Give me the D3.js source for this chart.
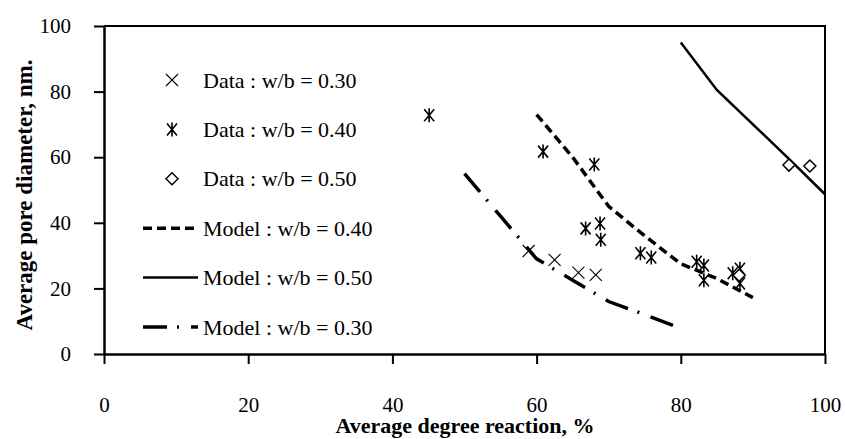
<!DOCTYPE html>
<html lang="en">
<head>
    <meta charset="UTF-8">
    <script src="https://d3js.org/d3.v7.min.js"></script>
    <style>
        body { margin: 0; background: #fff; }
        svg { font-family: "Liberation Serif", "Times New Roman", serif; }
        .tick text { font-size: 21px; fill: #000; }
    </style>
</head>
<body>
    <svg width="845" height="439"></svg>
    <script>
        // data
        var xTicks = [0, 20, 40, 60, 80, 100];
        var yTicks = [0, 20, 40, 60, 80, 100];

        var data30x = [58.9, 62.5, 65.8, 68.2];
        var data30y = [31.4, 28.7, 24.8, 24.1];

        var data40x = [45.1, 60.9, 68.0, 66.8, 68.8, 68.9, 74.4, 75.9, 82.2, 83.2, 83.2, 87.2, 88.2, 88.2];
        var data40y = [72.8, 61.7, 57.8, 38.3, 39.8, 34.8, 30.7, 29.4, 28.1, 27.0, 22.5, 24.6, 26.0, 21.5];

        var data50x = [95.0, 97.9, 88.1];
        var data50y = [57.6, 57.3, 24.0];

        var model40x = [60, 65, 70, 75, 80, 85, 90];
        var model40y = [73, 60, 45, 36, 27.5, 23, 17.2];

        var model50x = [80, 85, 90, 95, 100];
        var model50y = [95, 80.5, 70, 59.5, 48.7];

        var model30x = [50, 55, 60, 65, 70, 75, 80];
        var model30y = [55, 42, 29, 22.5, 16, 12, 7.8];

        var legendLabels = ["Data : w/b = 0.30", "Data : w/b = 0.40", "Data : w/b = 0.50",
                            "Model : w/b = 0.40", "Model : w/b = 0.50", "Model : w/b = 0.30"];

        var svg = d3.select("svg");
        var pLeft = 104, pTop = 26, pRight = 825, pBottom = 354;

        var x = d3.scaleLinear().domain([0, 100]).range([pLeft, pRight]);
        var y = d3.scaleLinear().domain([0, 100]).range([pBottom, pTop]);

        function zip(xs, ys) { return xs.map(function(v, i) { return [v, ys[i]]; }); }

        // frame (top and right)
        svg.append("path")
            .attr("d", "M" + pLeft + "," + pTop + "H" + pRight + "V" + pBottom)
            .attr("fill", "none").attr("stroke", "#000").attr("stroke-width", 2);

        var xAxis = svg.append("g")
            .attr("transform", "translate(0," + pBottom + ")")
            .call(d3.axisBottom(x).tickValues(xTicks).tickSize(10).tickSizeOuter(0).tickPadding(33));
        var yAxis = svg.append("g")
            .attr("transform", "translate(" + pLeft + ",0)")
            .call(d3.axisLeft(y).tickValues(yTicks).tickSize(10).tickSizeOuter(0).tickPadding(23));
        [xAxis, yAxis].forEach(function(a) {
            a.select(".domain").attr("stroke-width", 2.5);
            a.selectAll(".tick line").attr("stroke-width", 2);
            a.attr("font-family", null).attr("font-size", null);
        });

        // axis titles
        svg.append("text")
            .attr("x", 465).attr("y", 433)
            .attr("text-anchor", "middle")
            .attr("font-size", "22px").attr("font-weight", "bold")
            .text("Average degree reaction, %");
        svg.append("text")
            .attr("transform", "translate(32,195) rotate(-90)")
            .attr("text-anchor", "middle")
            .attr("font-size", "23px").attr("font-weight", "bold")
            .text("Average pore diameter, nm.");

        // model lines
        var line = d3.line().x(function(d) { return x(d[0]); }).y(function(d) { return y(d[1]); });
        var styles = [
            { w: 3.5, dash: "9,5" },
            { w: 2.5, dash: null },
            { w: 3.5, dash: "24,10,2,12" }
        ];
        var models = [zip(model40x, model40y), zip(model50x, model50y), zip(model30x, model30y)];
        models.forEach(function(m, i) {
            svg.append("path").datum(m)
                .attr("d", line)
                .attr("fill", "none").attr("stroke", "#000")
                .attr("stroke-width", styles[i].w)
                .attr("stroke-dasharray", styles[i].dash);
        });

        // markers
        function cross(g) {
            g.append("path").attr("d", "M-6,-6L6,6M-6,6L6,-6")
                .attr("stroke", "#000").attr("stroke-width", 1.1).attr("fill", "none");
        }
        function star(g) {
            g.append("path").attr("d", "M-5,-6L5,6M-5,6L5,-6M0,-7V7")
                .attr("stroke", "#000").attr("stroke-width", 1.6).attr("fill", "none");
        }
        function diamond(g) {
            g.append("path").attr("d", "M0,-6L6,0L0,6L-6,0Z")
                .attr("stroke", "#000").attr("stroke-width", 1.5).attr("fill", "#fff");
        }
        var sets = [[zip(data30x, data30y), cross], [zip(data40x, data40y), star], [zip(data50x, data50y), diamond]];
        sets.forEach(function(s) {
            svg.append("g").selectAll("g")
                .data(s[0]).enter().append("g")
                .attr("transform", function(d) { return "translate(" + x(d[0]) + "," + y(d[1]) + ")"; })
                .each(function() { s[1](d3.select(this)); });
        });

        // legend
        var legendY = d3.range(6).map(function(i) { return 80 + i * 49.4; });
        var leg = svg.append("g");
        [cross, star, diamond].forEach(function(fn, i) {
            fn(leg.append("g").attr("transform", "translate(172," + legendY[i] + ")"));
        });
        styles.forEach(function(s, i) {
            leg.append("line")
                .attr("x1", 143).attr("x2", 198)
                .attr("y1", legendY[i + 3]).attr("y2", legendY[i + 3])
                .attr("stroke", "#000").attr("stroke-width", s.w)
                .attr("stroke-dasharray", s.dash);
        });
        legendLabels.forEach(function(t, i) {
            leg.append("text")
                .attr("x", 203).attr("y", legendY[i] + 7.5)
                .attr("font-size", "22px")
                .text(t);
        });
    </script>
</body>
</html>
